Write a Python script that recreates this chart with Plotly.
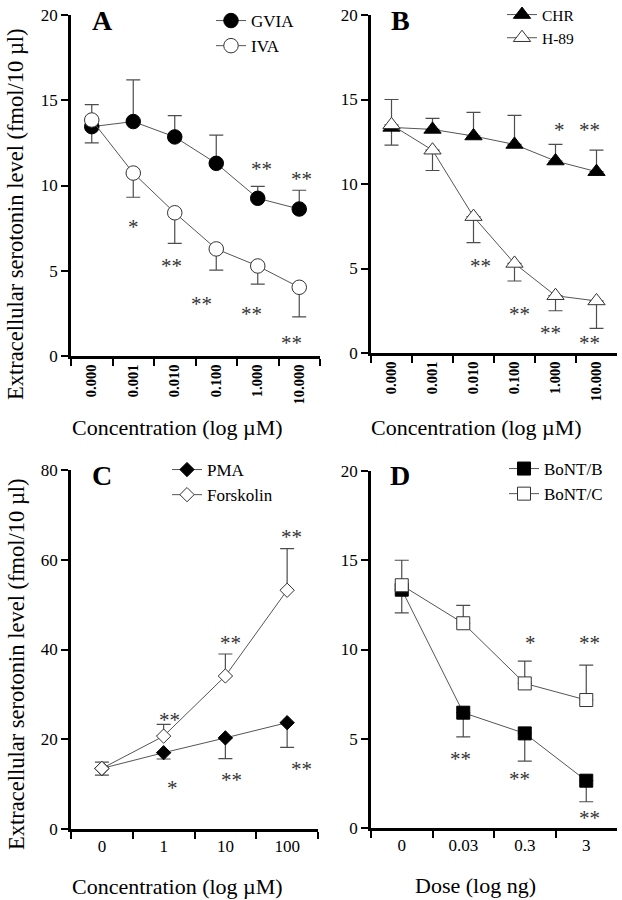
import plotly.graph_objects as go

# ---------------- data ----------------
conc_cats = ["0.000", "0.001", "0.010", "0.100", "1.000", "10.000"]
gvia = [13.45, 13.75, 12.85, 11.3, 9.25, 8.62]
gvia_up = [0, 2.45, 1.25, 1.65, 0.7, 1.1]
gvia_dn = [0.95, 0, 0, 0, 0, 0]
iva = [13.84, 10.73, 8.4, 6.28, 5.28, 4.03]
iva_up = [0.9, 0, 0, 0, 0, 0]
iva_dn = [0, 1.42, 1.8, 1.24, 1.06, 1.73]

chr_v = [13.35, 13.23, 12.84, 12.34, 11.36, 10.73]
chr_up = [0, 0.65, 1.4, 1.72, 0.98, 1.28]
chr_dn = [1.05, 0, 0, 0, 0, 0]
h89 = [13.5, 12.0, 8.07, 5.3, 3.39, 3.08]
h89_up = [1.5, 0, 0, 0, 0, 0]
h89_dn = [0, 1.2, 1.54, 1.04, 0.89, 1.62]

pma_cats = ["0", "1", "10", "100"]
pma = [13.5, 17.0, 20.3, 23.7]
pma_dn = [1.5, 1.4, 4.6, 5.5]
pma_up = [0, 0, 0, 0]
fsk = [13.5, 20.7, 34.1, 53.2]
fsk_up = [1.4, 2.6, 4.9, 9.3]
fsk_dn = [0, 0, 0, 0]

dose_cats = ["0", "0.03", "0.3", "3"]
bont_b = [13.35, 6.46, 5.3, 2.65]
bont_b_dn = [1.3, 1.35, 1.55, 1.18]
bont_b_up = [0, 0, 0, 0]
bont_c = [13.6, 11.47, 8.1, 7.17]
bont_c_up = [1.4, 1.0, 1.25, 1.95]
bont_c_dn = [0, 0, 0, 0]

# significance marks: (category position, value, text)
stars_a = [(1.0, 7.86, "*"), (1.93, 5.57, "**"), (2.65, 3.34, "**"), (3.86, 2.76, "**"),
           (4.82, 1.07, "**"), (4.1, 11.24, "**"), (5.06, 10.67, "**")]
stars_b = [(4.09, 13.49, "*"), (4.82, 13.49, "**"), (2.16, 5.44, "**"), (3.13, 2.59, "**"),
           (3.87, 1.46, "**"), (4.82, 0.87, "**")]
stars_c = [(1.1, 25.4, "**"), (2.09, 42.5, "**"), (3.07, 66.2, "**"), (1.14, 10.2, "*"),
           (2.1, 12.1, "**"), (3.23, 14.5, "**")]
stars_d = [(2.09, 10.63, "*"), (3.05, 10.63, "**"), (0.96, 4.15, "**"), (1.92, 3.0, "**"),
           (3.05, 0.82, "**")]

yticks_ab = [0, 5, 10, 15, 20]
yticks_c = [0, 20, 40, 60, 80]
yticks_d = [0, 5, 10, 15, 20]

# ---------------- layout helpers ----------------
W, H = 622, 900
FONT = "Liberation Serif, Times New Roman, serif"
LINE_C = "#555555"
ERR_C = "#4d4d4d"


def px(x):
    return x / W


def py(y):
    return 1 - y / H


fig = go.Figure()


def add_series(x, y, up, dn, symbol, size, filled, name, xa, ya, legend):
    fig.add_trace(go.Scatter(
        x=x, y=y, name=name, mode="lines+markers",
        xaxis=xa, yaxis=ya, legend=legend,
        line=dict(color=LINE_C, width=1),
        marker=dict(symbol=symbol, size=size,
                    color="black" if filled else "white",
                    line=dict(color="black" if filled else "#333333", width=1)),
        error_y=dict(type="data", symmetric=False, array=up, arrayminus=dn,
                     color=ERR_C, thickness=1.2, width=7),
    ))


add_series(conc_cats, gvia, gvia_up, gvia_dn, "circle", 14.5, True, "GVIA", "x", "y", "legend")
add_series(conc_cats, iva, iva_up, iva_dn, "circle", 14.5, False, "IVA", "x", "y", "legend")
add_series(conc_cats, chr_v, chr_up, chr_dn, "triangle-up", 15, True, "CHR", "x2", "y2", "legend2")
add_series(conc_cats, h89, h89_up, h89_dn, "triangle-up", 15, False, "H-89", "x2", "y2", "legend2")
add_series(pma_cats, pma, pma_up, pma_dn, "diamond", 11, True, "PMA", "x3", "y3", "legend3")
add_series(pma_cats, fsk, fsk_up, fsk_dn, "diamond", 11, False, "Forskolin", "x3", "y3", "legend3")
add_series(dose_cats, bont_b, bont_b_up, bont_b_dn, "square", 13, True, "BoNT/B", "x4", "y4", "legend4")
add_series(dose_cats, bont_c, bont_c_up, bont_c_dn, "square", 13, False, "BoNT/C", "x4", "y4", "legend4")

axis_common = dict(showline=True, linewidth=2.5, linecolor="black", ticks="outside",
                   ticklen=7, tickwidth=2, tickcolor="black", showgrid=False,
                   zeroline=False, mirror=False, automargin=False)

xcat_rot = dict(type="category", tickson="boundaries", tickangle=-90,
                tickfont=dict(family=FONT, size=14.5, color="black", weight="bold"))
xcat_flat = dict(type="category", tickson="boundaries", tickangle=0,
                 tickfont=dict(family=FONT, size=17, color="black"))
yfont = dict(family=FONT, size=17, color="black")

fig.update_layout(
    xaxis=dict(**axis_common, **xcat_rot, domain=[px(71), px(320)], anchor="y",
               range=[-0.5, 5.5]),
    yaxis=dict(**axis_common, domain=[py(356), py(15)], anchor="x", range=[0, 20],
               tickvals=yticks_ab, tickfont=yfont),
    xaxis2=dict(**axis_common, **xcat_rot, domain=[px(371), px(617)], anchor="y2",
                range=[-0.5, 5.5]),
    yaxis2=dict(**axis_common, domain=[py(353), py(15)], anchor="x2", range=[0, 20],
                tickvals=yticks_ab, tickfont=yfont),
    xaxis3=dict(**axis_common, **xcat_flat, domain=[px(71), px(318)], anchor="y3",
                range=[-0.5, 3.5]),
    yaxis3=dict(**axis_common, domain=[py(829), py(470)], anchor="x3", range=[0, 80],
                tickvals=yticks_c, tickfont=yfont),
    xaxis4=dict(**axis_common, **xcat_flat, domain=[px(371), px(617)], anchor="y4",
                range=[-0.5, 3.5]),
    yaxis4=dict(**axis_common, domain=[py(828), py(471)], anchor="x4", range=[0, 20],
                tickvals=yticks_d, tickfont=yfont),
)

leg_common = dict(xanchor="left", yanchor="top", bgcolor="rgba(0,0,0,0)", itemwidth=30,
                  borderwidth=0)
leg_font = dict(family=FONT, size=17, color="black")
fig.update_layout(
    legend=dict(**leg_common, font=leg_font, x=px(211), y=py(3)),
    legend2=dict(**leg_common, font=dict(leg_font, size=15.5), x=px(502), y=py(-2)),
    legend3=dict(**leg_common, font=leg_font, x=px(167), y=py(452)),
    legend4=dict(**leg_common, font=leg_font, x=px(504), y=py(451)),
)

annotations = []
for stars, xr, yr in [(stars_a, "x", "y"), (stars_b, "x2", "y2"),
                      (stars_c, "x3", "y3"), (stars_d, "x4", "y4")]:
    for sx, sy, txt in stars:
        annotations.append(dict(x=sx, y=sy, xref=xr, yref=yr, text=txt, showarrow=False,
                                xanchor="center", yanchor="middle", yshift=-5,
                                font=dict(family=FONT, size=21, color="#333333")))

for letter, lx, ly in [("A", 102, 20), ("B", 400, 20), ("C", 102, 475), ("D", 400, 475)]:
    annotations.append(dict(x=px(lx), y=py(ly), xref="paper", yref="paper", text=letter,
                            showarrow=False, xanchor="center", yanchor="middle",
                            font=dict(family=FONT, size=28, color="black", weight="bold")))

ytitle = "Extracellular serotonin level (fmol/10 \u00b5l)"
for ty in [214, 664]:
    annotations.append(dict(x=px(16), y=py(ty), xref="paper", yref="paper", text=ytitle,
                            showarrow=False, textangle=-90, xanchor="center",
                            yanchor="middle", font=dict(family=FONT, size=22.5, color="black")))

for txt, tx, ty in [("Concentration (log \u00b5M)", 177, 428),
                    ("Concentration (log \u00b5M)", 476, 428),
                    ("Concentration (log \u00b5M)", 177, 886),
                    ("Dose (log ng)", 475, 885)]:
    annotations.append(dict(x=px(tx), y=py(ty), xref="paper", yref="paper", text=txt,
                            showarrow=False, xanchor="center", yanchor="middle",
                            font=dict(family=FONT, size=22, color="black")))

fig.update_layout(
    annotations=annotations,
    width=W, height=H,
    margin=dict(l=0, r=0, t=0, b=0, pad=0, autoexpand=False),
    paper_bgcolor="white", plot_bgcolor="white",
    showlegend=True,
    font=dict(family=FONT, color="black"),
)

# remove the default 8px page margin so the 622x900 figure fills the window
fig.write_html("out.html",
               config={"displayModeBar": False},
               post_script="document.body.style.margin='0px';document.body.style.overflow='hidden';")
